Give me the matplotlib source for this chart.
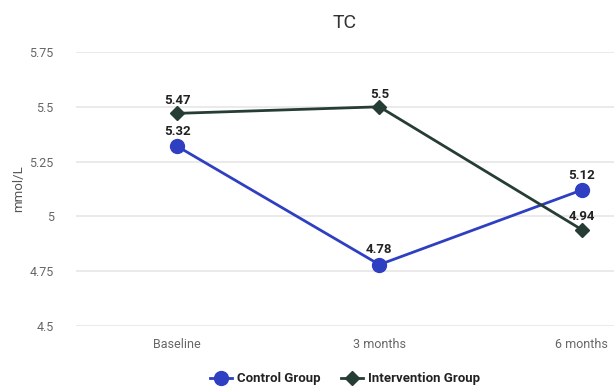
import matplotlib.pyplot as plt
from matplotlib.ticker import FixedLocator

plt.rcParams["font.family"] = ["Roboto", "DejaVu Sans"]

categories = ["Baseline", "3 months", "6 months"]
control = [5.32, 4.78, 5.12]
intervention = [5.47, 5.5, 4.94]
yticks = [4.5, 4.75, 5, 5.25, 5.5, 5.75]
ytick_labels = ["4.5", "4.75", "5", "5.25", "5.5", "5.75"]

blue = "#2f3fc2"
green = "#263d35"

fig = plt.figure(figsize=(6.14, 3.9), dpi=100)
ax = fig.add_axes([76 / 614, 64 / 390, (614 - 76) / 614, (326 - 52) / 390])

x = list(range(len(categories)))
ax.plot(x, control, color=blue, lw=2, marker="o", ms=10, label="Control Group", zorder=3)
ax.plot(x, intervention, color=green, lw=2, marker="D", ms=7, label="Intervention Group", zorder=3)

# value labels just above each point
for xi, v in zip(x, control):
    ax.annotate(f"{v:g}", (xi, v), xytext=(0, 6), textcoords="offset points",
                ha="center", va="bottom", fontsize=9.5, fontweight="bold", color="#222222")
for xi, v in zip(x, intervention):
    ax.annotate(f"{v:g}", (xi, v), xytext=(0, 4.5), textcoords="offset points",
                ha="center", va="bottom", fontsize=9.5, fontweight="bold", color="#222222")

# one category step is ~202 px; the last category sits near the right edge
ax.set_xlim(-0.5, 2.16)
ax.set_ylim(4.5, 5.75)
ax.set_xticks(x)
ax.set_xticklabels(categories)
ax.yaxis.set_major_locator(FixedLocator(yticks))
ax.set_yticklabels(ytick_labels)
ax.tick_params(length=0, labelsize=9, labelcolor="#666666")
ax.tick_params(axis="x", pad=9)
ax.tick_params(axis="y", pad=16)
ax.grid(axis="y", color="#e6e6e6", lw=1.2)
ax.set_axisbelow(True)
for s in ax.spines.values():
    s.set_visible(False)

ax.set_ylabel("mmol/L", fontsize=9.5, color="#555555", labelpad=3)
ax.set_title("TC", fontsize=14, color="#333333", pad=17)

ax.legend(loc="upper center", bbox_to_anchor=(0.5, -0.125), ncol=2, frameon=False,
          prop={"weight": "bold", "size": 9.5}, handlelength=1.7, columnspacing=1.5,
          handletextpad=0.4, labelcolor="#222222")

fig.savefig("out.png", dpi=100)
